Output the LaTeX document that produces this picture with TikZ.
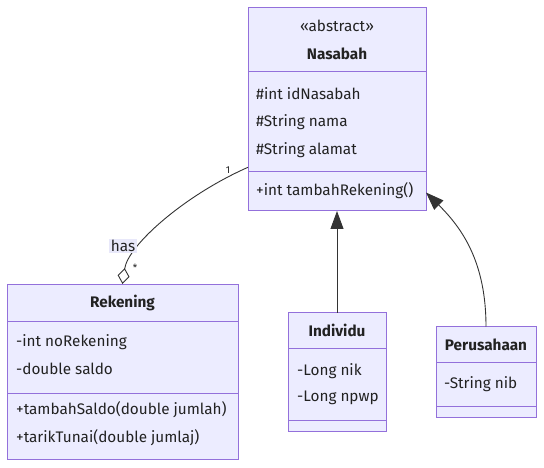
\documentclass[tikz,border=0pt]{standalone}
\usepackage{fontspec}
\setmainfont{Fira Sans}
\usetikzlibrary{arrows.meta, positioning}
\definecolor{classfill}{HTML}{ECECFF}
\definecolor{classborder}{HTML}{9370DB}
\definecolor{edgecol}{HTML}{333333}
\definecolor{textcol}{HTML}{222222}
\definecolor{labelfill}{HTML}{E8E8FA}

\begin{document}
\begin{tikzpicture}[x=1pt, y=-1pt,
    classbox/.style={draw=classborder, fill=classfill, line width=1pt, inner sep=0, outer sep=0},
    divider/.style={classborder, line width=1pt},
    member/.style={anchor=west, inner sep=0, text=textcol, font=\fontsize{15.3}{17}\selectfont},
    classname/.style={inner sep=0, text=textcol, font=\fontsize{15.3}{17}\selectfont\bfseries},
    relation/.style={edgecol, line width=0.9pt},
    mult/.style={inner sep=0, text=textcol, font=\fontsize{10}{11}\selectfont}]
  \useasboundingbox (0,0) rectangle (544,468);

  % Nasabah (abstract)
  \node[classbox, minimum width=178pt, minimum height=203pt] (nasabah) at (337,109.5) {};
  \node[classname, font=\fontsize{15.3}{17}\selectfont] (nasabahStereo) at (337,26) {«abstract»};
  \node[classname] (nasabahTitle) at (337,54) {Nasabah};
  \draw[divider] (248,72) -- (426,72);
  \draw[divider] (248,172) -- (426,172);
  \foreach \y/\txt in {94/{\#int idNasabah}, 122/{\#String nama}, 150/{\#String alamat}}
    \node[member] at (256,\y) {\txt};
  \node[member] at (256,191) {+int tambahRekening()};

  % Rekening
  \node[classbox, minimum width=231pt, minimum height=175pt] (rekening) at (122.5,371.5) {};
  \node[classname] (rekeningTitle) at (122.5,303) {Rekening};
  \draw[divider] (7,321) -- (238,321);
  \draw[divider] (7,393) -- (238,393);
  \foreach \y/\txt in {342/{-int noRekening}, 369/{-double saldo},
                       410/{+tambahSaldo(double jumlah)}, 438/{+tarikTunai(double jumlaj)}}
    \node[member] at (16,\y) {\txt};

  % Individu
  \node[classbox, minimum width=98pt, minimum height=119pt] (individu) at (337,372) {};
  \node[classname] (individuTitle) at (337,330) {Individu};
  \draw[divider] (288,348.5) -- (386,348.5);
  \draw[divider] (288,420.5) -- (386,420.5);
  \foreach \y/\txt in {371/{-Long nik}, 398/{-Long npwp}}
    \node[member] at (297,\y) {\txt};

  % Perusahaan
  \node[classbox, minimum width=100pt, minimum height=91pt] (perusahaan) at (486,372) {};
  \node[classname] (perusahaanTitle) at (486,344.5) {Perusahaan};
  \draw[divider] (436,362.5) -- (536,362.5);
  \draw[divider] (436,406.5) -- (536,406.5);
  \node[member] at (444,384) {-String nib};

  % Relations
  \draw[relation, -{Triangle[length=18pt, width=13pt]}] (individu.north) -- (nasabah.south);
  \draw[relation, -{Triangle[length=18pt, width=13pt]}] (perusahaan.north)
    .. controls (486,262) and (462,228) .. (nasabah.-43);
  \draw[relation, {Diamond[open, length=16pt, width=12pt]}-] (rekening.north)
    .. controls (128,245) and (185,195) .. (nasabah.213);

  % Labels
  \node[member, anchor=center, fill=labelfill, inner sep=1.5pt] (hasLabel) at (123,246) {has};
  \node[mult] (multOne) at (228,170) {1};
  \node[mult] (multMany) at (135,268) {*};
\end{tikzpicture}
\end{document}
